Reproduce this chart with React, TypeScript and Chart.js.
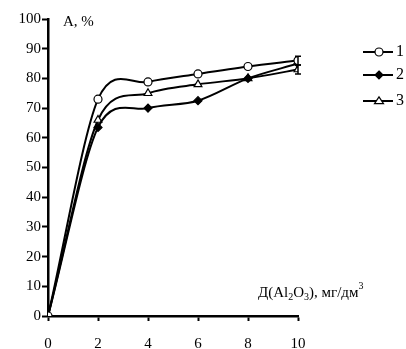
import React, { useEffect, useRef } from "react";
import { Chart, registerables } from "chart.js";

Chart.register(...registerables);

const xValues = [0, 2, 4, 6, 8, 10];
const series1 = [0, 73, 78.8, 81.5, 84, 86];
const series2 = [0, 63.5, 70, 72.5, 80, 85];
const series3 = [0, 66, 75, 78, 80, 83];
const seriesLabels = ["1", "2", "3"];
const errors1 = [0, 0, 0, 0, 0, 1.5];
const errors3 = [0, 0, 0, 0, 0, 1.5];
const yTicks = [0, 10, 20, 30, 40, 50, 60, 70, 80, 90, 100];
const xTicks = [0, 2, 4, 6, 8, 10];
const yTitle = "A, %";

const FONT = "'Liberation Serif', 'DejaVu Serif', serif";

const styles = [
  { pointStyle: "circle", fill: "#fff", radius: 4 },
  { pointStyle: "rectRot", fill: "#000", radius: 4 },
  { pointStyle: "triangle", fill: "#fff", radius: 4.5 },
];

// Catmull-Rom style (spreadsheet "smoothed line") control points on the library's own point elements
const smoothPlugin = {
  id: "smooth",
  beforeDatasetsDraw(chart: any) {
    chart.data.datasets.forEach((_: any, di: number) => {
      const meta = chart.getDatasetMeta(di);
      const line = meta.dataset;
      if (!line) return;
      line.updateControlPoints(chart.chartArea, "x");
      const pts = meta.data;
      const n = pts.length;
      for (let i = 0; i < n; i++) {
        const p = pts[i];
        const prev = pts[Math.max(0, i - 1)];
        const next = pts[Math.min(n - 1, i + 1)];
        const k = i === 0 || i === n - 1 ? 1 / 3 : 0.15;
        const dx = (next.x - prev.x) * k;
        const dy = (next.y - prev.y) * k;
        p.cp1x = p.x - dx;
        p.cp1y = p.y - dy;
        p.cp2x = p.x + dx;
        p.cp2y = p.y + dy;
      }
      line._path = undefined;
    });
  },
};

function drawMarker(ctx: CanvasRenderingContext2D, style: string, r: number, x: number, y: number, fill: string) {
  ctx.beginPath();
  if (style === "circle") {
    ctx.arc(x, y, r, 0, Math.PI * 2);
  } else if (style === "rectRot") {
    ctx.moveTo(x, y - r);
    ctx.lineTo(x + r, y);
    ctx.lineTo(x, y + r);
    ctx.lineTo(x - r, y);
    ctx.closePath();
  } else {
    const h = r * 1.5;
    ctx.moveTo(x, y - h * 0.6);
    ctx.lineTo(x + r, y + h * 0.4);
    ctx.lineTo(x - r, y + h * 0.4);
    ctx.closePath();
  }
  ctx.fillStyle = fill;
  ctx.fill();
  ctx.strokeStyle = "#000";
  ctx.stroke();
}

const extrasPlugin = {
  id: "extras",
  afterDatasetsDraw(chart: any) {
    const ctx = chart.ctx;
    const xs = chart.scales.x;
    const ys = chart.scales.y;
    ctx.save();
    ctx.strokeStyle = "#000";
    ctx.lineWidth = 1.5;
    const drawErr = (vals: number[], errs: number[]) => {
      vals.forEach((v, i) => {
        if (!errs[i]) return;
        const px = xs.getPixelForValue(xValues[i]);
        const top = ys.getPixelForValue(v + errs[i]);
        const bot = ys.getPixelForValue(v - errs[i]);
        ctx.beginPath();
        ctx.moveTo(px, top);
        ctx.lineTo(px, bot);
        ctx.moveTo(px - 3, top);
        ctx.lineTo(px + 3, top);
        ctx.moveTo(px - 3, bot);
        ctx.lineTo(px + 3, bot);
        ctx.stroke();
      });
    };
    drawErr(series1, errors1);
    drawErr(series3, errors3);

    ctx.fillStyle = "#000";
    ctx.font = `15px ${FONT}`;
    ctx.textBaseline = "middle";
    ctx.textAlign = "left";
    ctx.fillText(yTitle, 63, 22);

    let x = 258;
    const base = 297;
    ctx.textBaseline = "alphabetic";
    const part = (t: string, size: number, dy: number) => {
      ctx.font = `${size}px ${FONT}`;
      ctx.fillText(t, x, base + dy);
      x += ctx.measureText(t).width;
    };
    part("Д(Al", 15, 0);
    part("2", 10, 3);
    part("O", 15, 0);
    part("3", 10, 3);
    part("), мг/дм", 15, 0);
    part("3", 10, -8);

    const ly = [52, 75, 101];
    chart.data.datasets.forEach((_: any, i: number) => {
      const y = ly[i];
      ctx.strokeStyle = "#000";
      ctx.lineWidth = 2;
      ctx.beginPath();
      ctx.moveTo(363, y);
      ctx.lineTo(393, y);
      ctx.stroke();
      ctx.lineWidth = 1.2;
      const st = styles[i];
      drawMarker(ctx, st.pointStyle, st.radius, 379, y, st.fill);
      ctx.fillStyle = "#000";
      ctx.font = `16px ${FONT}`;
      ctx.textAlign = "left";
      ctx.textBaseline = "middle";
      ctx.fillText(seriesLabels[i], 396, y);
    });
    ctx.restore();
  },
};

export default function App() {
  const ref = useRef<HTMLCanvasElement>(null);
  useEffect(() => {
    if (!ref.current) return;
    const all = [series1, series2, series3];
    const chart = new Chart(ref.current, {
      type: "line",
      data: {
        datasets: all.map((s, i) => ({
          label: seriesLabels[i],
          data: s.map((v, j) => ({ x: xValues[j], y: v })),
          borderColor: "#000",
          borderWidth: 2,
          tension: 0.4,
          pointStyle: styles[i].pointStyle as any,
          pointRadius: styles[i].radius,
          pointBackgroundColor: styles[i].fill,
          pointBorderColor: "#000",
          pointBorderWidth: 1.2,
          fill: false,
        })),
      },
      options: {
        animation: false,
        responsive: false,
        maintainAspectRatio: false,
        layout: { padding: { left: 0, top: 19, right: 108, bottom: 0 } },
        plugins: { legend: { display: false }, tooltip: { enabled: false } },
        scales: {
          x: {
            type: "linear",
            min: 0,
            max: 10,
            afterFit: (s: any) => { s.height = 33; },
            afterBuildTicks: (s: any) => { s.ticks = xTicks.map((v) => ({ value: v })); },
            grid: { drawOnChartArea: false, color: "#000", tickLength: 5, tickWidth: 2 },
            border: { color: "#000", width: 2.5 },
            ticks: { color: "#000", font: { family: FONT, size: 15 }, padding: 14 },
          },
          y: {
            type: "linear",
            min: 0,
            max: 100,
            afterFit: (s: any) => { s.width = 48; },
            afterBuildTicks: (s: any) => { s.ticks = yTicks.map((v) => ({ value: v })); },
            grid: { drawOnChartArea: false, color: "#000", tickLength: 6, tickWidth: 2 },
            border: { color: "#000", width: 2.5 },
            ticks: { color: "#000", font: { family: FONT, size: 15 }, padding: 1 },
          },
        },
      },
      plugins: [smoothPlugin, extrasPlugin],
    });
    return () => chart.destroy();
  }, []);
  return (
    <div style={{ position: "fixed", left: 0, top: 0, width: 406, height: 349, background: "#fff" }}>
      <canvas ref={ref} width={406} height={349} style={{ width: 406, height: 349 }} />
    </div>
  );
}
